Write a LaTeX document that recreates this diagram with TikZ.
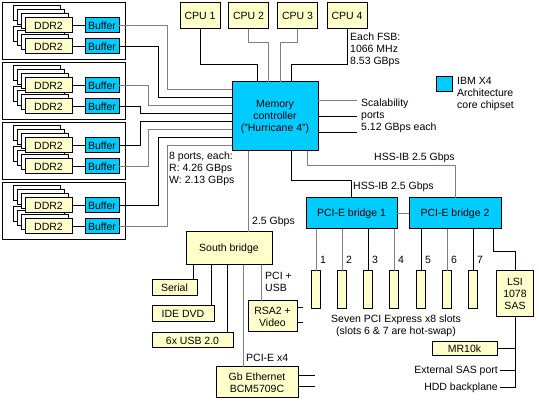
\documentclass[tikz,border=0pt]{standalone}
\usepackage{fontspec}
\setmainfont{Liberation Sans}
\definecolor{chipcyan}{RGB}{0,204,255}
\definecolor{cardyellow}{RGB}{255,255,204}
\definecolor{linegray}{RGB}{128,128,128}
\tikzset{
  box/.style={draw=black, line width=1pt, inner sep=0pt, outer sep=0pt, align=center},
  ybox/.style={box, fill=cardyellow},
  cbox/.style={box, fill=chipcyan},
  lbl/.style={inner sep=0pt, align=left, anchor=west},
  wire/.style={line width=1pt},
}
\begin{document}
\begin{tikzpicture}[x=1pt, y=-1pt, font=\fontsize{10.5}{12}\selectfont]
    \useasboundingbox (0,0) rectangle (539,414);
    \foreach \k in {1,...,4}{
        \pgfmathsetmacro{\bt}{3+60*(\k-1)}
        \draw[wire] (2,\bt) rectangle (125,{\bt+57});
        \foreach \r/\dy in {2/43.5,1/22.5}{
            \foreach \s in {12,8,4}
                \draw[wire, fill=white] ({25-\s},{\bt+\dy-7.5-\s}) rectangle ++(47,15);
            \node[ybox, minimum width=47, minimum height=15] (ddr\k\r) at (48.5,{\bt+\dy}) {DDR2};
            \node[cbox, minimum width=34, minimum height=15] (buf\k\r) at (102,{\bt+\dy}) {Buffer};
            \draw[wire] (ddr\k\r) -- (buf\k\r);
        }
    }
    \node[ybox, minimum width=40, minimum height=26] (cpu1) at (200,16) {CPU 1};
    \node[ybox, minimum width=40, minimum height=26] (cpu2) at (248.5,16) {CPU 2};
    \node[ybox, minimum width=40, minimum height=26] (cpu3) at (297.5,16) {CPU 3};
    \node[ybox, minimum width=40, minimum height=26] (cpu4) at (347,16) {CPU 4};
    \node[cbox, minimum width=86, minimum height=69] (mc) at (275,116.5) {Memory\\controller\\("Hurricane 4")};
    \node[cbox, minimum width=16, minimum height=15] (key) at (444,84.5) {};
    \node[lbl] (keytext) at (457,94) {IBM X4\\Architecture\\core chipset};
    \node[lbl] (fsb) at (350,50) {Each FSB:\\1066 MHz\\8.53 GBps};
    \node[lbl] (scal) at (361,116) {Scalability\\ports\\5.12 GBps each};
    \node[lbl] (ports) at (169,169) {8 ports, each:\\R: 4.26 GBps\\W: 2.13 GBps};

    \foreach \b/\xv/\yp/\c in {11/167/90/linegray, 12/158/98/black, 21/148/106/linegray, 22/140/114/black,
                               31/140/122/black, 32/148/130/linegray, 41/158/138/black, 42/167/146/linegray}
        \draw[wire, \c] (buf\b.east) -| (\xv,\yp) -- (\xv,\yp -| mc.west);
    \draw[wire] (cpu1.south) |- (257,65) -- (257,65 |- mc.north);
    \draw[wire, linegray] (cpu2.south) |- (268,43) -- (268,43 |- mc.north);
    \draw[wire, linegray] (cpu3.south) |- (280,43) -- (280,43 |- mc.north);
    \draw[wire] (cpu4.south) |- (291,65) -- (291,65 |- mc.north);

    \coordinate (sc1) at (357,101);
    \coordinate (sc2) at (357,117);
    \coordinate (sc3) at (357,133);
    \draw[wire, linegray] (mc.east |- sc1) -- (sc1);
    \draw[wire] (mc.east |- sc2) -- (sc2);
    \draw[wire] (mc.east |- sc3) -- (sc3);

    \node[cbox, minimum width=91, minimum height=31] (br1) at (351.5,213.5) {PCI-E bridge 1};
    \node[cbox, minimum width=92, minimum height=31] (br2) at (455,213.5) {PCI-E bridge 2};
    \draw[wire, linegray] (br1.east) -- (br2.west);
    \draw[wire, linegray] (mc.south -| 307,0) -- (307,166) -| (br2.north);
    \draw[wire] (mc.south -| 291,0) -- (291,181) -| (br1.north);
    \node[lbl] (hss2) at (374,158) {HSS-IB 2.5 Gbps};
    \node[lbl] (hss1) at (353,187) {HSS-IB 2.5 Gbps};

    \foreach \n/\x/\br/\c in {1/316/br1/linegray, 2/342/br1/linegray, 3/368/br1/black, 4/394/br1/linegray,
                              5/421/br2/black, 6/447/br2/linegray, 7/473/br2/black}{
        \node[ybox, minimum width=9, minimum height=38] (slot\n) at (\x,290) {};
        \node[lbl] (num\n) at ({\x+4},260) {\n};
        \draw[wire, \c] (\br.south -| \x,0) -- (slot\n.north);
    }
    \node[align=center, inner sep=0pt] (slotnote) at (396,326) {Seven PCI Express x8 slots\\(slots 6 \& 7 are hot-swap)};

    \node[ybox, minimum width=37, minimum height=46] (lsi) at (515,294) {LSI\\1078\\SAS};
    \node[ybox, minimum width=65, minimum height=14] (mr) at (464.5,349) {MR10k};
    \node[anchor=east, inner sep=2pt] (ext) at (500,371) {External SAS port};
    \node[anchor=east, inner sep=2pt] (hdd) at (500,388) {HDD backplane};
    \draw[wire] (br2.south -| 493,0) |- (515,252) -- (lsi.north);
    \draw[wire] (lsi.south) -- (lsi.south |- hdd.east) -- (hdd.east);
    \draw[wire] (mr.east) -- (mr.east -| lsi.south);
    \draw[wire] (ext.east) -- (ext.east -| lsi.south);

    \node[ybox, minimum width=86, minimum height=33] (sb) at (229,248.5) {South bridge};
    \node[lbl] (sbrate) at (252,222) {2.5 Gbps};
    \draw[wire, linegray] (mc.south -| 248,0) -- (sb.north -| 248,0);
    \node[ybox, minimum width=45, minimum height=16] (serial) at (174.5,288) {Serial};
    \node[ybox, minimum width=62, minimum height=16] (ide) at (183,314) {IDE DVD};
    \node[ybox, minimum width=81, minimum height=15] (usb) at (192.5,340.5) {6x USB 2.0};
    \node[ybox, minimum width=49, minimum height=31] (rsa) at (272.5,316.5) {RSA2 +\\Video};
    \node[ybox, minimum width=82, minimum height=31] (eth) at (257,382.5) {Gb Ethernet\\BCM5709C};
    \draw[wire] (sb.south -| 193,0) -- (serial.north -| 193,0);
    \draw[wire] (sb.south -| 211,0) -- (ide.north -| 211,0);
    \draw[wire] (sb.south -| 227,0) -- (usb.north -| 227,0);
    \draw[wire, linegray] (sb.south -| 243,0) -- (eth.north -| 243,0);
    \draw[wire, linegray] (sb.south -| 261,0) -- (rsa.north -| 261,0);
    \node[lbl] (pciusb) at (265,282) {PCI +\\USB};
    \node[lbl] (pcie4) at (246,358) {PCI-E x4};
    \draw[wire] (rsa.east |- 0,308) -- ++(6,0);
    \draw[wire] (rsa.east |- 0,323) -- ++(6,0);
    \draw[wire] (eth.east |- 0,376) -- ++(17,0);
    \draw[wire] (eth.east |- 0,387) -- ++(17,0);
\end{tikzpicture}
\end{document}
